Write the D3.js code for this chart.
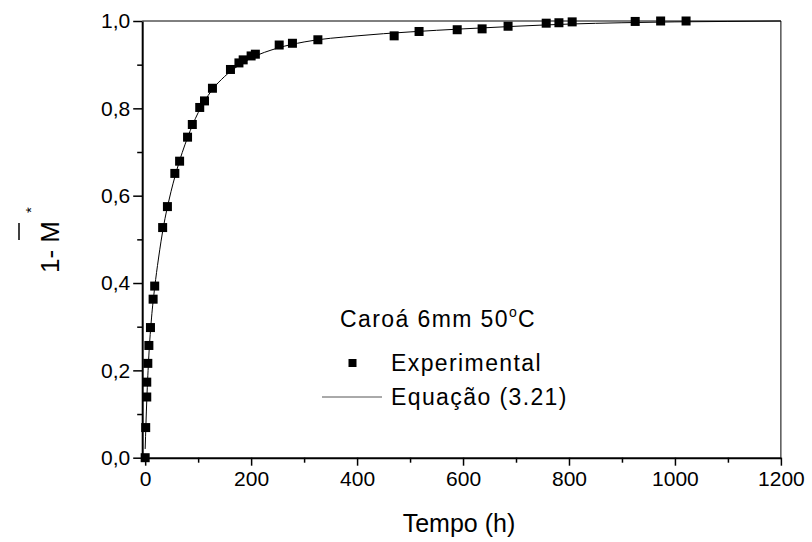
<!DOCTYPE html>
<html><head><meta charset="utf-8">
<script src="https://cdn.jsdelivr.net/npm/d3@7"></script>
<style>body{margin:0;background:#fff}svg{display:block}</style>
</head><body>
<script>
// Experimental data: time (h) and 1 - M*
const expTime = [0, 1, 3, 3, 5, 7, 10, 15, 18, 33, 42, 56, 65, 80, 89, 103, 112, 127, 161, 177, 185, 200, 208, 253, 278, 326, 470, 517, 589, 636, 685, 757, 781, 806, 925, 973, 1021];
const expValue = [0, 0.069, 0.139, 0.173, 0.216, 0.257, 0.298, 0.363, 0.393, 0.527, 0.575, 0.651, 0.679, 0.734, 0.763, 0.802, 0.817, 0.846, 0.889, 0.904, 0.911, 0.920, 0.924, 0.945, 0.949, 0.957, 0.966, 0.976, 0.980, 0.982, 0.988, 0.995, 0.996, 0.998, 0.999, 1.0, 1.0];
// Fitted curve, Equação (3.21)
const fitTime = [0, 3, 7, 12, 18, 25, 35, 45, 60, 80, 100, 125, 150, 175, 200, 250, 300, 400, 500, 600, 700, 800, 900, 1000, 1100, 1200];
const fitValue = [0.02, 0.13, 0.235, 0.32, 0.39, 0.455, 0.532, 0.59, 0.66, 0.733, 0.79, 0.84, 0.873, 0.897, 0.915, 0.938, 0.952, 0.966, 0.975, 0.982, 0.988, 0.993, 0.996, 0.998, 0.999, 1.0];
const xTicks = [0, 200, 400, 600, 800, 1000, 1200];
const yTicks = [0, 0.2, 0.4, 0.6, 0.8, 1.0];
const xMinor = [100, 300, 500, 700, 900, 1100];
const yMinor = [0.1, 0.3, 0.5, 0.7, 0.9];

const W = 812, H = 542;
const svg = d3.select("body").append("svg").attr("width", W).attr("height", H);
const x = d3.scaleLinear().domain([-5.6, 1200]).range([142.2, 780.9]);
const y = d3.scaleLinear().domain([0, 1]).range([457.7, 21]);
const font = "'Liberation Sans', Arial, sans-serif";
const fmt = d3.format(".1f");
const comma = v => fmt(v).replace(".", ",");

// frame (top/right)
svg.append("path")
  .attr("d", `M${x.range()[0]},${y(1)}H${x.range()[1]}V${y(0)}`)
  .attr("fill", "none").attr("stroke", "#000").attr("stroke-width", 1);

// x axis
svg.append("g").attr("transform", `translate(0,${y(0)})`)
  .call(d3.axisBottom(x).tickValues(xTicks).tickFormat(d3.format("d")).tickSizeInner(8).tickSizeOuter(0).tickPadding(5));
svg.append("g").attr("transform", `translate(0,${y(0)})`)
  .call(d3.axisBottom(x).tickValues(xMinor).tickFormat("").tickSizeInner(5).tickSizeOuter(0))
  .select(".domain").remove();
// y axis
svg.append("g").attr("transform", `translate(${x.range()[0]},0)`)
  .call(d3.axisLeft(y).tickValues(yTicks).tickFormat(comma).tickSizeInner(9).tickSizeOuter(0).tickPadding(3));
svg.append("g").attr("transform", `translate(${x.range()[0]},0)`)
  .call(d3.axisLeft(y).tickValues(yMinor).tickFormat("").tickSizeInner(5).tickSizeOuter(0))
  .select(".domain").remove();
svg.selectAll(".domain").attr("stroke-width", 2);
svg.selectAll(".tick line").attr("stroke-width", 1.5);
svg.selectAll(".tick text").attr("font-family", font).attr("font-size", 21).attr("fill", "#000");

// fitted curve
const line = d3.line().x((d, i) => x(fitTime[i])).y((d, i) => y(fitValue[i])).curve(d3.curveMonotoneX);
svg.append("path").datum(fitValue).attr("d", line)
  .attr("fill", "none").attr("stroke", "#000").attr("stroke-width", 1);

// experimental squares
const s = 9;
svg.append("g").selectAll("rect").data(expValue).join("rect")
  .attr("x", (d, i) => x(expTime[i]) - s / 2).attr("y", d => y(d) - s / 2)
  .attr("width", s).attr("height", s).attr("fill", "#000");

// axis titles
svg.append("text").attr("x", 459).attr("y", 532).attr("text-anchor", "middle")
  .attr("font-family", font).attr("font-size", 25).text("Tempo (h)");
const yl = svg.append("g").attr("transform", "translate(59,273) rotate(-90)");
yl.append("text").attr("x", 0).attr("y", 0).attr("font-family", font).attr("font-size", 26).text("1- M");
yl.append("line").attr("x1", 33).attr("x2", 50).attr("y1", -40).attr("y2", -40).attr("stroke", "#000").attr("stroke-width", 1.5);
yl.append("text").attr("x", 60).attr("y", -23).attr("font-family", font).attr("font-size", 15).text("*");

// legend
const lg = svg.append("g").attr("font-family", font).attr("font-size", 23).attr("letter-spacing", 1.4);
const t1 = lg.append("text").attr("x", 340).attr("y", 327);
t1.append("tspan").text("Caroá 6mm 50");
t1.append("tspan").attr("font-size", 14).attr("dy", -10).text("o");
t1.append("tspan").attr("dy", 10).text("C");
lg.append("rect").attr("x", 348.5).attr("y", 359).attr("width", 8).attr("height", 8).attr("fill", "#000");
lg.append("text").attr("x", 391).attr("y", 371).text("Experimental");
lg.append("line").attr("x1", 322).attr("x2", 382).attr("y1", 397).attr("y2", 397).attr("stroke", "#555").attr("stroke-width", 1);
lg.append("text").attr("x", 391).attr("y", 405).text("Equação (3.21)");
</script>
</body></html>
